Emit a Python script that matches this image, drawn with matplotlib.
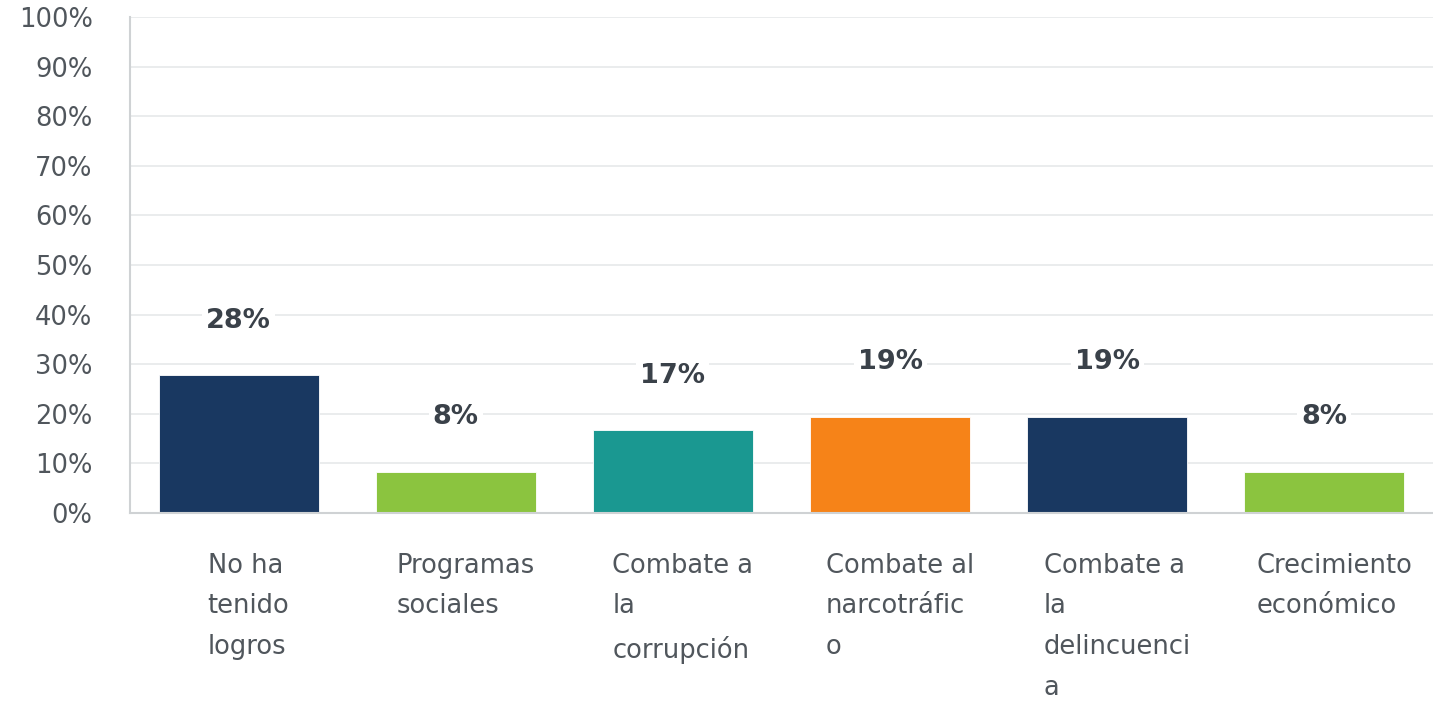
import matplotlib
matplotlib.use("Agg")
import matplotlib.pyplot as plt
import numpy as np

categories = ["No ha\ntenido\nlogros", "Programas\nsociales", "Combate a\nla\ncorrupción",
              "Combate al\nnarcotráfic\no", "Combate a\nla\ndelincuenci\na", "Crecimiento\neconómico"]
values = [27.78, 8.33, 16.67, 19.44, 19.44, 8.33]
colors = ["#193861", "#8bc43f", "#1a9891", "#f68318", "#193861", "#8bc43f"]
yticks = [0, 10, 20, 30, 40, 50, 60, 70, 80, 90, 100]

W, H = 1433, 702
fig = plt.figure(figsize=(W / 100, H / 100), dpi=100)
ax = fig.add_axes([130 / W, 1 - 513 / H, (W - 130) / W, (513 - 17) / H])

x = np.arange(len(values))
ax.bar(x, values, width=0.737, color=colors, edgecolor="#ffffff", linewidth=0.6, zorder=3)

ax.set_xlim(-0.5, len(values) - 0.5)
ax.set_ylim(0, 100)
ax.set_yticks(yticks)
ax.set_yticklabels([f"{t}%" for t in yticks], fontfamily="DejaVu Sans", fontsize=18.5, color="#50565c")
ax.tick_params(axis="y", length=0, pad=27)
ax.set_xticks([])
ax.grid(axis="y", color="#e6e9ea", linewidth=1.2, zorder=0)
for s in ["top", "right"]:
    ax.spines[s].set_visible(False)
for s in ["left", "bottom"]:
    ax.spines[s].set_color("#cfd2d4")
    ax.spines[s].set_linewidth(1.5)
    ax.spines[s].set_zorder(4)

for xi, v in zip(x, values):
    ax.text(xi, v + 11, f"{round(v)}%", ha="center", va="center", fontfamily="DejaVu Sans",
            fontsize=19.5, fontweight="bold", color="#3a4149",
            bbox=dict(facecolor="white", edgecolor="none", pad=3), zorder=5)

for xi, lab in zip(x, categories):
    ax.text(xi + 10 / 217, -8.0, lab, ha="center", va="top", multialignment="left",
            fontfamily="DejaVu Sans", fontsize=18.5, color="#50565c", linespacing=1.74,
            transform=ax.transData, clip_on=False)

fig.savefig("out.png", dpi=100)
